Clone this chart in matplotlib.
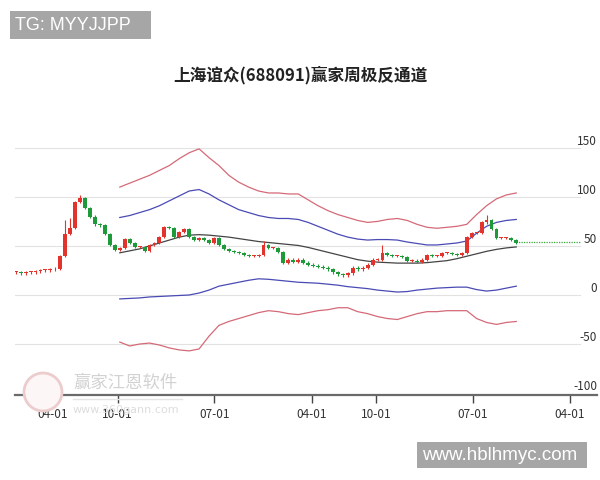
import numpy as np
import pandas as pd
import matplotlib
matplotlib.use("Agg")
from matplotlib import pyplot as plt
import matplotlib.dates as mdates
from matplotlib.patches import Ellipse

plt.rcParams['font.family'] = ['Noto Sans CJK SC', 'DejaVu Sans']

# biweekly closes
closes = [23, 22, 23, 23, 24, 25, 25, 26, 27, 40,
          62, 68, 95, 99, 89, 80, 72, 71, 62, 51,
          46, 48, 57, 53, 49, 49, 45, 51, 53, 59,
          69, 68, 59, 64, 67, 59, 56, 58, 56, 53,
          58, 51, 47, 45, 44, 43, 41, 40, 40, 41,
          51, 48, 48, 44, 33, 36, 34, 36, 33, 31,
          30, 29, 28, 26, 23, 21, 20, 22, 28, 26,
          28, 31, 36, 36, 43, 41, 40, 40, 39, 35,
          35, 34, 36, 41, 40, 40, 43, 43, 42, 41,
          43, 59, 63, 63, 74, 76, 67, 58, 58, 58,
          56, 53]
spike_idx = [10, 11, 13, 50, 74, 95]
spike_high = [76, 78, 102, 55, 51, 82]

# channel lines, every 4 weeks from 2022-10-07
upper_red = [110, 114, 118, 122, 127, 132, 139, 145, 149, 140,
             132, 122, 115, 110, 106, 104, 104, 103, 103, 97,
             91, 86, 82, 79, 76, 74, 75, 77, 78, 76,
             72, 69, 68, 69, 70, 72, 82, 91, 98, 102, 104]
upper_blue = [79, 81, 84, 87, 91, 96, 101, 106, 107.5, 103,
              97, 92, 87, 84, 81, 79, 78, 78, 77, 74,
              70, 66, 62, 59, 57, 56, 56.5, 56.5, 56, 54,
              52.5, 51, 51, 52, 53, 55, 63, 70, 74, 76, 77]
middle = [43, 45, 47, 50, 53, 56, 59, 61, 61.5, 61,
          60, 59, 57.5, 56, 54.5, 53.5, 52.5, 51.5, 50.5, 48.5,
          46, 43.5, 41, 38.5, 36, 34.5, 33.5, 33, 32.5, 32.5,
          32.5, 33, 34, 35, 37, 39.5, 42, 44.5, 46.5, 48, 49]
lower_blue = [-4, -3.5, -3, -2, -1.5, -1, -0.5, 0, 2, 5,
              9, 11, 13, 15, 16.5, 16, 15, 14, 13, 12.5,
              12, 11, 10, 8.5, 7.5, 6.5, 5, 4, 3, 3.5,
              5, 6, 7, 7.5, 8, 8, 5.5, 4, 5, 7, 9]
lower_red = [-48, -52, -50, -49, -51, -54, -56, -57, -55, -42,
             -31, -27, -24, -21, -18, -16, -17, -19, -20, -18,
             -16, -15, -13, -13, -17, -19, -22, -24, -25, -22,
             -19, -17, -17, -16, -16, -16, -24, -28, -30, -28, -27]

last_level = 54
yticks = [150, 100, 50, 0, -50, -100]
xtick_dates = ['2022-04-01', '2022-10-01', '2023-07-01', '2024-04-01',
               '2024-10-01', '2025-07-01', '2026-04-01']
title = "上海谊众(688091)赢家周极反通道"

dates = mdates.date2num(pd.date_range('2021-12-17', periods=len(closes), freq='14D'))
ch_dates = mdates.date2num(pd.date_range('2022-10-07', periods=len(middle), freq='28D'))

fig = plt.figure(figsize=(6, 4.8), dpi=100)
ax = fig.add_axes([0.025, 0.177, 0.97, 0.563])

opens = [closes[0]] + closes[:-1]
highs = [max(o, c) + 1.2 for o, c in zip(opens, closes)]
lows = [min(o, c) - 1.2 for o, c in zip(opens, closes)]
for i, h in zip(spike_idx, spike_high):
    highs[i] = h

for d, o, c, h, l in zip(dates, opens, closes, highs, lows):
    col = '#e2342c' if c >= o else '#1e9a3a'
    ax.vlines(d, l, h, color=col, lw=0.8, zorder=3)
    ax.bar(d, max(abs(c - o), 1.0), bottom=min(o, c), width=11, color=col, zorder=4)

ax.plot(ch_dates, upper_red, color='#d46a78', lw=0.9, zorder=2)
ax.plot(ch_dates, lower_red, color='#d46a78', lw=0.9, zorder=2)
ax.plot(ch_dates, upper_blue, color='#4a4ab4', lw=0.9, zorder=2)
ax.plot(ch_dates, lower_blue, color='#4a4ab4', lw=0.9, zorder=2)
ax.plot(ch_dates, middle, color='#444444', lw=0.9, zorder=2)

xmin = mdates.date2num(pd.Timestamp('2021-12-15'))
xmax = mdates.date2num(pd.Timestamp('2026-06-16'))
ax.plot([dates[-1], xmin + 0.97 * (xmax - xmin)], [last_level, last_level],
        color='#33aa33', lw=0.9, ls=(0, (1, 1)), zorder=2)

for v in yticks[:-1]:
    ax.axhline(v, xmax=0.97, color='#e2e2e2', lw=0.8, zorder=0)

ax.set_xlim(xmin, xmax)
ax.set_ylim(-102, 173.5)
for s in ['top', 'left', 'right']:
    ax.spines[s].set_visible(False)
ax.spines['bottom'].set_color('#6a6a6a')
ax.spines['bottom'].set_linewidth(1.6)

ax.yaxis.tick_right()
ax.set_yticks(yticks)
ax.set_yticklabels([str(v) for v in yticks])
ax.tick_params(axis='y', length=0, pad=0, labelsize=8.5, labelcolor='#333333')
for lab in ax.get_yticklabels():
    lab.set_ha('right')
    lab.set_va('bottom')

ax.set_xticks(mdates.date2num(pd.to_datetime(xtick_dates)))
ax.set_xticklabels([d[5:] for d in xtick_dates])
ax.tick_params(axis='x', length=6, width=1, color='#444444', labelsize=8.5,
               labelcolor='#333333', pad=3)

fig.text(0.5, 1 - 75 / 480, title, ha='center', va='center', fontsize=12,
         fontweight='bold', color='#222222')

# watermarks
fig.text(15 / 600, 1 - 25 / 480, "TG: MYYJJPP   ", ha='left', va='center', fontsize=13,
         color='white', family='Liberation Sans',
         bbox=dict(boxstyle='square,pad=0.3', fc='#a6a6a6', ec='none'))
fig.text(422 / 600, 1 - 455 / 480, "www.hblhmyc.com ", ha='left', va='center', fontsize=13.5,
         color='white', family='Liberation Sans',
         bbox=dict(boxstyle='square,pad=0.25', fc='#a6a6a6', ec='none'))
fig.add_artist(Ellipse((43 / 600, 1 - 392 / 480), 38 / 600, 38 / 480,
                       transform=fig.transFigure, fc='#fdf6f6', ec='#eccccc', lw=2))
fig.text(73 / 600, 1 - 383 / 480, "赢家江恩软件", ha='left', va='center', fontsize=12.5,
         color='#d2d2d2')
fig.add_artist(plt.Line2D([73 / 600, 182 / 600], [1 - 399 / 480, 1 - 399 / 480],
                          transform=fig.transFigure, color='#e4e4e4', lw=1))
fig.text(73 / 600, 1 - 410 / 480, "www.360gann.com", ha='left', va='center', fontsize=8,
         color='#dddddd', family='DejaVu Sans')

fig.savefig('out.png', dpi=100, facecolor='white')
